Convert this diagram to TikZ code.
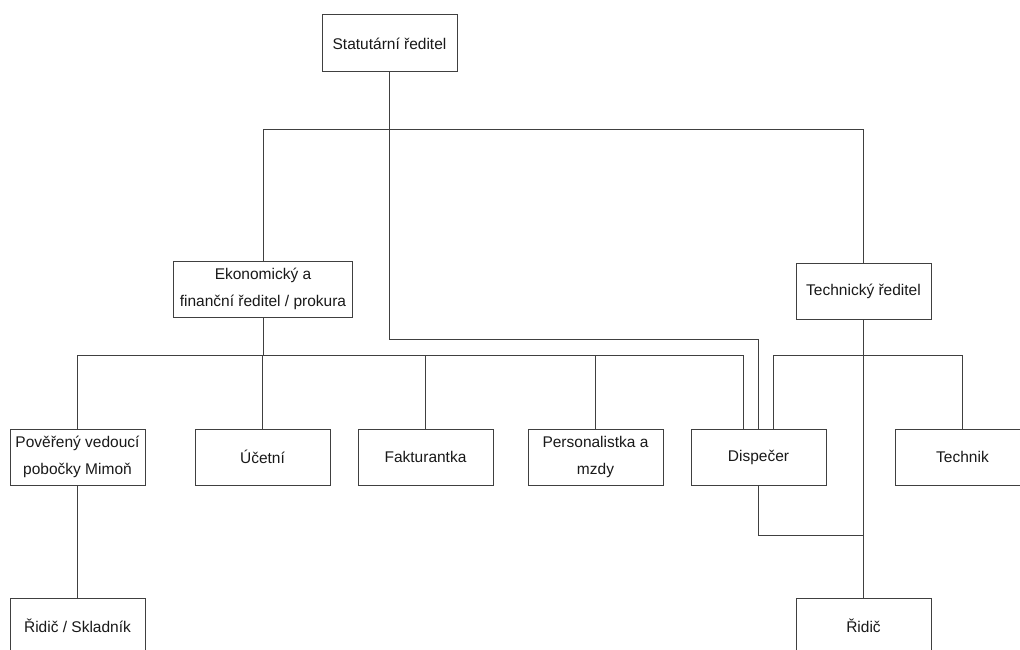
\documentclass[tikz,border=0pt]{standalone}
\usepackage{fontspec}
\setmainfont{Liberation Sans}
\begin{document}
\begin{tikzpicture}[x=1pt,y=-1pt,
  box/.style={draw=black!75, line width=1pt, fill=white, minimum width=135pt, minimum height=56pt,
    inner sep=2pt, align=center, font=\fontsize{15.5}{27}\selectfont, text=black!90},
  conn/.style={draw=black!75, line width=1pt}]
\clip (0,0) rectangle (1020,650);
\fill[white] (0,0) rectangle (1020,650);
% coordinates of bus lines
\coordinate (bus1) at (0,130);
\coordinate (bus2) at (0,339);
\coordinate (bus3) at (0,355);
\coordinate (bus4) at (0,535);
% nodes
\node[box, minimum height=57pt] (stat) at (389.5,43.5) {Statutární ředitel};
\node[box, minimum width=179pt] (ekon) at (263,289) {Ekonomický a\\finanční ředitel / prokura};
\node[box] (tech) at (863.5,291) {Technický ředitel};
\node[box] (pov) at (77.5,457) {Pověřený vedoucí\\pobočky Mimoň};
\node[box] (uce) at (262.5,457) {Účetní};
\node[box] (fakt) at (425.5,457) {Fakturantka};
\node[box] (pers) at (595.5,457) {Personalistka a\\mzdy};
\node[box] (disp) at (758.5,457) {Dispečer};
\node[box] (techn) at (962.5,457) {Technik};
\node[box] (rsk) at (77.5,626) {Řidič / Skladník};
\node[box] (ridic) at (863.5,626) {Řidič};
\coordinate (dispL) at ([xshift=-15.5pt]disp.north);
\coordinate (dispR) at ([xshift=14.5pt]disp.north);
% connectors
\draw[conn] (ekon.north) |- (tech.north |- bus1) -- (tech.north);
\draw[conn] (stat.south) |- (disp.north |- bus2) -- (disp.north);
\draw[conn] (ekon.south) -- (ekon.south |- bus3);
\draw[conn] (pov.north) |- (dispL |- bus3) -- (dispL);
\draw[conn] (uce.north) -- (uce.north |- bus3);
\draw[conn] (fakt.north) -- (fakt.north |- bus3);
\draw[conn] (pers.north) -- (pers.north |- bus3);
\draw[conn] (tech.south) -- (ridic.north);
\draw[conn] (dispR) |- (techn.north |- bus3) -- (techn.north);
\draw[conn] (disp.south) |- (ridic.north |- bus4);
\draw[conn] (pov.south) -- (rsk.north);
\end{tikzpicture}
\end{document}
